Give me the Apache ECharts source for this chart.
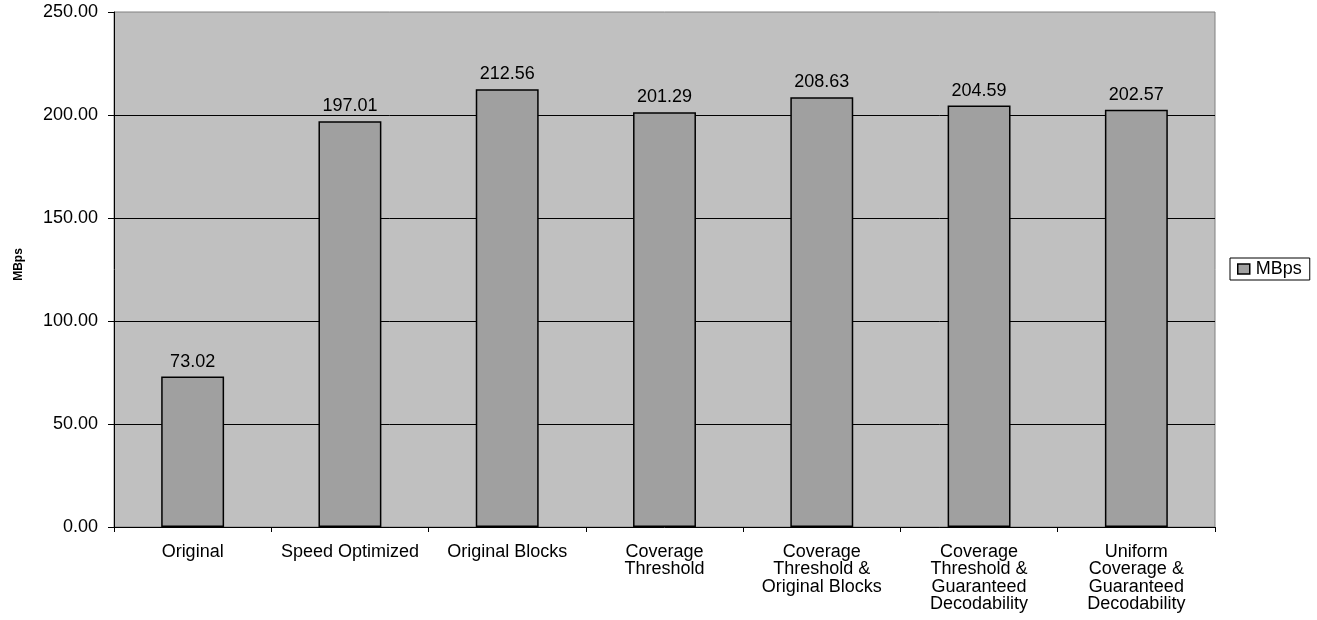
<!DOCTYPE html>
<html>
<head>
<meta charset="utf-8">
<script src="https://cdn.jsdelivr.net/npm/echarts@6/dist/echarts.min.js"></script>
<style>html,body{margin:0;padding:0;background:#fff;}#c{width:1317px;height:620px;}</style>
</head>
<body>
<div id="c"></div>
<script>
const categories = ["Original", "Speed Optimized", "Original Blocks", "Coverage Threshold", "Coverage Threshold & Original Blocks", "Coverage Threshold & Guaranteed Decodability", "Uniform Coverage & Guaranteed Decodability"];
const tickLabels = ["Original", "Speed Optimized", "Original Blocks", "Coverage\nThreshold", "Coverage\nThreshold &\nOriginal Blocks", "Coverage\nThreshold &\nGuaranteed\nDecodability", "Uniform\nCoverage &\nGuaranteed\nDecodability"];
const mbps = [73.02, 197.01, 212.56, 201.29, 208.63, 204.59, 202.57];
const seriesName = "MBps";

const font = "'Liberation Sans', Arial, sans-serif";
const fs = 18;
const chart = echarts.init(document.getElementById('c'), null, {renderer: 'canvas'});
chart.setOption({
  animation: false,
  textStyle: {fontFamily: font},
  grid: {left: 114, right: 102, top: 12, bottom: 93, containLabel: false, outerBoundsMode: 'none', show: true, backgroundColor: '#C0C0C0', borderColor: '#808080', borderWidth: 1},
  legend: {
    show: true, left: 1230, top: 258, orient: 'vertical',
    borderColor: '#000', borderWidth: 1, padding: [2, 8, 2, 7],
    itemWidth: 12, itemHeight: 10, itemGap: 4,
    textStyle: {fontFamily: font, fontSize: fs, color: '#000', padding: [0, 0, 0, 1]},
    data: [{name: seriesName, icon: 'rect', itemStyle: {color: '#A0A0A0', borderColor: '#000', borderWidth: 1.5}}]
  },
  xAxis: {
    type: 'category', data: categories, boundaryGap: true,
    axisLine: {lineStyle: {color: '#000', width: 1}},
    axisTick: {show: true, length: 5, alignWithLabel: false, lineStyle: {color: '#000'}},
    axisLabel: {
      interval: 0, margin: 16, color: '#000', fontSize: fs, lineHeight: 17.5, fontFamily: font, align: 'center',
      formatter: (v, i) => tickLabels[i]
    }
  },
  yAxis: {
    type: 'value', min: 0, max: 250, interval: 50,
    name: 'MBps', nameLocation: 'middle', nameGap: 89, nameRotate: 90,
    nameTextStyle: {fontFamily: font, fontSize: 12, fontWeight: 'bold', color: '#000', padding: [0, 0, 0, 10]},
    axisLine: {show: true, lineStyle: {color: '#000', width: 1}},
    axisTick: {show: true, length: 6, lineStyle: {color: '#000'}},
    axisLabel: {margin: 16, color: '#000', fontSize: fs, fontFamily: font, formatter: v => v.toFixed(2)},
    splitLine: {show: true, showMinLine: false, showMaxLine: false, lineStyle: {color: '#000', width: 1}}
  },
  series: [{
    name: seriesName, type: 'bar', data: mbps, barWidth: '40%',
    itemStyle: {color: '#A0A0A0', borderColor: '#000', borderWidth: 1.5},
    label: {show: true, position: 'top', distance: 6, color: '#000', fontSize: fs, fontFamily: font, formatter: p => p.value.toFixed(2)}
  }]
});
</script>
</body>
</html>
